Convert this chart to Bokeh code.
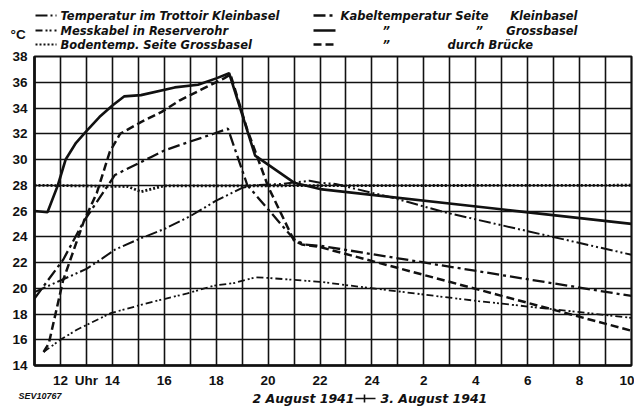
from bokeh.plotting import figure
from bokeh.layouts import column
from bokeh.models import FixedTicker, Range1d
from bokeh.core.properties import value
from bokeh.embed import file_html
from bokeh.resources import INLINE

# ---------------- data (hours counted from midnight of 2 August 1941) ----------------
hours_kabel_gross = [11.0, 11.5, 11.9, 12.2, 12.6, 13.0, 13.5, 14.0, 14.45, 15.1, 16.4, 17.3, 18.0, 18.5, 19.5, 21.0, 22.0, 34.0]
temp_kabel_gross = [26.0, 25.9, 28.0, 30.0, 31.3, 32.2, 33.3, 34.2, 34.9, 35.0, 35.6, 35.8, 36.3, 36.7, 30.3, 28.2, 27.7, 25.0]

hours_kabel_bruecke = [11.35, 11.55, 12.1, 12.9, 13.4, 13.9, 14.3, 15.1, 15.9, 16.6, 17.4, 18.3, 18.55, 19.2, 20.0, 21.0, 21.3, 22.0, 34.0]
temp_kabel_bruecke = [15.05, 15.7, 20.6, 25.2, 27.4, 30.6, 32.0, 32.9, 33.7, 34.6, 35.4, 36.3, 36.6, 32.3, 27.9, 23.7, 23.4, 23.2, 16.7]

hours_kabel_klein = [11.0, 12.1, 12.9, 14.1, 14.3, 15.5, 16.0, 17.0, 17.9, 18.45, 19.2, 21.0, 21.4, 22.0, 34.0]
temp_kabel_klein = [19.2, 22.2, 25.2, 28.8, 29.0, 30.2, 30.7, 31.4, 32.0, 32.4, 28.0, 23.8, 23.4, 23.3, 19.4]

hours_trottoir = [11.0, 12.0, 13.0, 13.6, 14.1, 15.0, 16.0, 17.0, 18.0, 19.0, 19.5, 20.5, 21.6, 22.0, 22.6, 24.85, 26.8, 34.0]
temp_trottoir = [19.7, 20.6, 21.5, 22.3, 23.0, 23.8, 24.6, 25.6, 26.8, 27.8, 28.0, 28.1, 28.35, 28.2, 28.1, 27.0, 25.9, 22.6]

hours_messkabel = [11.35, 12.0, 12.65, 13.93, 15.09, 15.86, 16.89, 17.91, 18.68, 19.52, 20.0, 22.0, 24.0, 28.1, 34.0]
temp_messkabel = [15.05, 16.0, 16.8, 18.06, 18.7, 19.1, 19.6, 20.2, 20.4, 20.85, 20.8, 20.5, 20.0, 19.0, 17.7]

hours_boden = [11.0, 14.6, 15.1, 16.0, 34.0]
temp_boden = [28.0, 27.9, 27.5, 27.95, 28.0]

x_ticks = [12, 13, 14, 16, 18, 20, 22, 24, 26, 28, 30, 32, 34]
x_tick_labels = ["12", "Uhr", "14", "16", "18", "20", "22", "24", "2", "4", "6", "8", "10"]
y_ticks = [14, 16, 18, 20, 22, 24, 26, 28, 30, 32, 34, 36, 38]
grid_hours = list(range(12, 34))
grid_temps = [16, 18, 20, 22, 24, 26, 28, 30, 32, 34, 36]

legend_left = ["Temperatur im Trottoir Kleinbasel", "Messkabel in Reserverohr", "Bodentemp. Seite Grossbasel"]
unit_label = "\u00b0C"
date_left = "2 August 1941"
date_right = "3. August 1941"
figure_code = "SEV10767"

# ---------------- layout ----------------
INK = "#111111"
FONT = "DejaVu Sans"
W = 634
LEG_H = 50
BOT_H = 16
BL, BR, BT, BB = 34, 3, 6, 24
FH = 310
MAIN_H = BT + FH + BB

p = figure(width=W, height=MAIN_H, x_range=(11, 34), y_range=(14, 38),
           output_backend="svg", toolbar_location=None, frame_align=False,
           min_border_left=BL, min_border_right=BR, min_border_top=BT, min_border_bottom=BB)
p.background_fill_color = "white"
p.border_fill_color = "white"
p.outline_line_color = INK
p.outline_line_width = 2.2

p.xaxis.ticker = FixedTicker(ticks=x_ticks)
p.xaxis.major_label_overrides = {t: l for t, l in zip(x_ticks, x_tick_labels)}
p.yaxis.ticker = FixedTicker(ticks=y_ticks)
for ax in p.axis:
    ax.axis_line_color = INK
    ax.axis_line_width = 2.6
    ax.major_tick_line_color = None
    ax.minor_tick_line_color = None
    ax.major_tick_in = 0
    ax.major_tick_out = 0
    ax.major_label_text_font = "Liberation Sans"
    ax.major_label_text_font_style = "bold"
    ax.major_label_text_font_size = "13.5px"
    ax.major_label_text_color = INK
p.xaxis.major_label_standoff = 7
p.yaxis.major_label_standoff = 7

p.xgrid.ticker = FixedTicker(ticks=grid_hours)
p.ygrid.ticker = FixedTicker(ticks=grid_temps)
p.grid.grid_line_color = INK
p.grid.grid_line_width = 1.6

styles = [
    (hours_trottoir, temp_trottoir, "12 3 2 3 2 3", 2.0),
    (hours_messkabel, temp_messkabel, "7 3 2 2 2 3", 1.8),
    (hours_boden, temp_boden, "2 2", 2.8),
    (hours_kabel_klein, temp_kabel_klein, "12 4 3 4", 2.3),
    (hours_kabel_gross, temp_kabel_gross, "solid", 2.6),
    (hours_kabel_bruecke, temp_kabel_bruecke, "8 4", 2.5),
]
for hx, ty, dash, lw in styles:
    p.line(hx, ty, line_color=INK, line_width=lw, line_dash=dash)


def plain(h):
    f = figure(width=W, height=h, x_range=Range1d(0, W), y_range=Range1d(h, 0),
               output_backend="svg", toolbar_location=None, frame_align=False,
               x_axis_location=None, y_axis_location=None, min_border=0)
    f.grid.visible = False
    f.outline_line_color = None
    f.background_fill_color = "white"
    f.border_fill_color = "white"
    return f


LEG_FS = value("11.5px")

# ---------------- legend (top strip) ----------------
lg = plain(LEG_H)
row_y = [15, 30, 44]
for i in range(3):
    _, _, dash, lw = styles[i]
    lg.line([35, 56], [row_y[i], row_y[i]], line_color=INK, line_width=min(lw, 1.8), line_dash=dash)
    _, _, dash, lw = styles[i + 3]
    lg.line([313, 335], [row_y[i], row_y[i]], line_color=INK, line_width=lw, line_dash=dash)

txt_x = [60, 60, 60, 340, 382, 475, 382]
txt_y = [row_y[0], row_y[1], row_y[2], row_y[0], row_y[1], row_y[1], row_y[2]]
txt = legend_left + ["Kabeltemperatur Seite", "\u201d", "\u201d", "\u201d"]
lg.text(x=txt_x, y=txt_y, text=txt, text_font=value(FONT), text_font_style="bold italic",
        text_font_size=LEG_FS, text_color=INK, text_align="left", text_baseline="middle")
lg.text(x=[577, 577], y=[row_y[0], row_y[1]], text=["Kleinbasel", "Grossbasel"], text_font=value(FONT),
        text_font_style="bold italic", text_font_size=LEG_FS, text_color=INK,
        text_align="right", text_baseline="middle")
lg.text(x=[447], y=[row_y[2]], text=["durch Br\u00fccke"], text_font=value(FONT),
        text_font_style="bold italic", text_font_size=LEG_FS, text_color=INK,
        text_align="left", text_baseline="middle")
lg.text(x=[10], y=[34], text=[unit_label], text_font=value("Liberation Sans"), text_font_style="bold",
        text_font_size=value("13.5px"), text_color=INK, text_align="left", text_baseline="middle")

# ---------------- bottom strip ----------------
bt = plain(BOT_H)
bt.text(x=[18], y=[5], text=[figure_code], text_font=value("Liberation Sans"), text_font_style="bold italic",
        text_font_size=value("9px"), text_color=INK, text_align="left", text_baseline="middle")
bt.text(x=[354], y=[8], text=[date_left], text_font=value(FONT), text_font_style="bold italic",
        text_font_size=value("12.5px"), text_color=INK, text_align="right", text_baseline="middle")
bt.text(x=[380], y=[8], text=[date_right], text_font=value(FONT), text_font_style="bold italic",
        text_font_size=value("12.5px"), text_color=INK, text_align="left", text_baseline="middle")
bt.segment(x0=[355, 364], y0=[8, 4], x1=[375, 364], y1=[8, 12], line_color=INK, line_width=1.6)

layout = column(lg, p, bt, spacing=0)
open("out.html", "w").write(file_html(layout, INLINE))
